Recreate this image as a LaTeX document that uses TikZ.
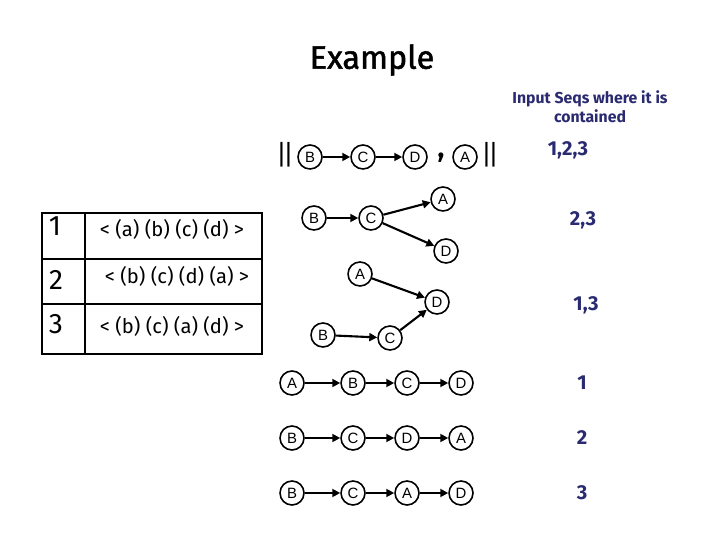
\documentclass[tikz,border=0pt]{standalone}
\usepackage{fontspec}
\setmainfont{Fira Sans}
\newfontfamily\nodefont{Liberation Sans}
\newfontfamily\titlefont[FakeBold=1.5]{Fira Sans}
\usetikzlibrary{arrows.meta,positioning}
\definecolor{seqblue}{RGB}{42,42,112}

\begin{document}
\begin{tikzpicture}[x=0.02cm,y=-0.02cm,
    item/.style={circle, draw, line width=0.9pt, minimum size=0.48cm, inner sep=0pt, font=\nodefont\fontsize{8.5}{10}\selectfont},
    link/.style={-{Triangle[length=4.5pt,width=4.5pt]}, line width=1.2pt},
    count/.style={text=seqblue, font=\bfseries\fontsize{11.5}{13}\selectfont}]
    \useasboundingbox (0,0) rectangle (720,540);

    % Title and column header
    \node (title) at (372,60) {\titlefont\fontsize{18.5}{22}\selectfont Example};
    \node[text=seqblue, font=\bfseries\fontsize{9}{11}\selectfont, align=center] (head) at (590,107) {Input Seqs where it is\\contained};

    % Input sequence table
    \draw[line width=1.2pt] (42,213) rectangle (262,354);
    \draw[line width=0.8pt] (85,213) -- (85,354);
    \draw[line width=0.8pt] (42,259) -- (262,259);
    \draw[line width=0.8pt] (42,304) -- (262,304);
    \node[font=\fontsize{16}{18}\selectfont] (n1) at (55,226) {1};
    \node[font=\fontsize{16}{18}\selectfont] (n2) at (56,280) {2};
    \node[font=\fontsize{16}{18}\selectfont] (n3) at (56,324) {3};
    \node[font=\fontsize{11.5}{13}\selectfont] (s1) at (172,229) {< (a) (b) (c) (d) >};
    \node[font=\fontsize{11.5}{13}\selectfont] (s2) at (177,276) {< (b) (c) (d) (a) >};
    \node[font=\fontsize{11.5}{13}\selectfont] (s3) at (172,326) {< (b) (c) (a) (d) >};

    % Pattern 1: B -> C -> D , A
    \node[font=\nodefont\fontsize{15}{17}\selectfont] (barl) at (285,155) {||};
    \node[item] (b1) at (310,157) {B};
    \node[item] (c1) at (363,157) {C};
    \node[item] (d1) at (415,157) {D};
    \node[font=\bfseries\fontsize{16}{18}\selectfont] (comma) at (441,158) {,};
    \node[item] (a1) at (465,157) {A};
    \node[font=\nodefont\fontsize{15}{17}\selectfont] (barr) at (490,155) {||};
    \draw[link] (b1) -- (c1);
    \draw[link] (c1) -- (d1);
    \node[count] (k1) at (568,150) {1,2,3};

    % Pattern 2: B -> C -> {A, D}
    \node[item] (b2) at (314,218) {B};
    \node[item] (c2) at (371,218) {C};
    \node[item] (a2) at (443,199) {A};
    \node[item] (d2) at (446,251) {D};
    \draw[link] (b2) -- (c2);
    \draw[link] (c2) -- (a2);
    \draw[link] (c2) -- (d2);
    \node[count] (k2) at (583,220) {2,3};

    % Pattern 3: {A, B -> C} -> D
    \node[item] (a3) at (360,274) {A};
    \node[item] (d3) at (437,302) {D};
    \node[item] (b3) at (323,335) {B};
    \node[item] (c3) at (390,338) {C};
    \draw[link] (a3) -- (d3);
    \draw[link] (b3) -- (c3);
    \draw[link] (c3) -- (d3);
    \node[count] (k3) at (586,305) {1,3};

    % Sequences as chains
    \node[item] (r1a) at (292,383) {A};
    \node[item] (r1b) at (353,383) {B};
    \node[item] (r1c) at (407,383) {C};
    \node[item] (r1d) at (461,383) {D};
    \draw[link] (r1a) -- (r1b);
    \draw[link] (r1b) -- (r1c);
    \draw[link] (r1c) -- (r1d);
    \node[count] (q1) at (582,383) {1};

    \node[item] (r2b) at (292,438) {B};
    \node[item] (r2c) at (353,438) {C};
    \node[item] (r2d) at (407,438) {D};
    \node[item] (r2a) at (461,438) {A};
    \draw[link] (r2b) -- (r2c);
    \draw[link] (r2c) -- (r2d);
    \draw[link] (r2d) -- (r2a);
    \node[count] (q2) at (582,438) {2};

    \node[item] (r3b) at (292,493) {B};
    \node[item] (r3c) at (353,493) {C};
    \node[item] (r3a) at (407,493) {A};
    \node[item] (r3d) at (461,493) {D};
    \draw[link] (r3b) -- (r3c);
    \draw[link] (r3c) -- (r3a);
    \draw[link] (r3a) -- (r3d);
    \node[count] (q3) at (582,493) {3};
\end{tikzpicture}
\end{document}
